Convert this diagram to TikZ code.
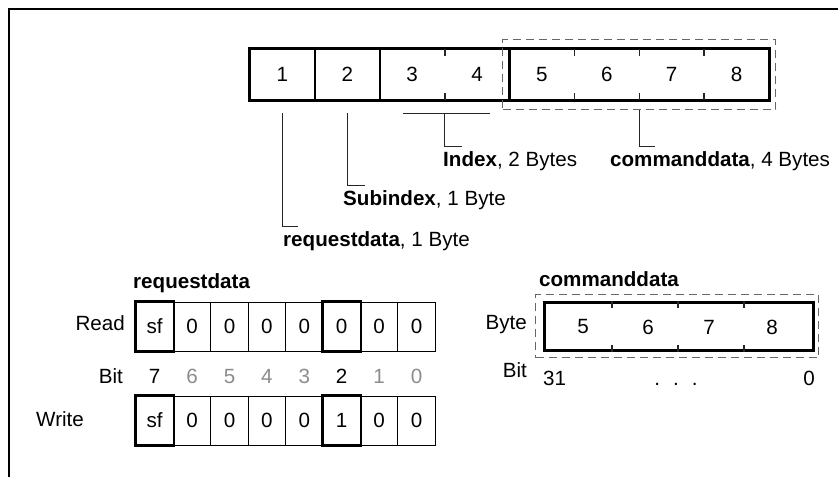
\documentclass[tikz,border=0pt]{standalone}
\usepackage{fontspec}
\setmainfont{Liberation Sans}
\begin{document}
\begin{tikzpicture}[x=1pt,y=-1pt,
  font=\fontsize{20.6}{24}\selectfont,
  thickbox/.style={line width=2.8pt},
  midline/.style={line width=2.2pt},
  tickl/.style={line width=1.8pt, draw=black!85},
  conn/.style={line width=1pt, draw=black!85},
  dashbox/.style={draw=black!60, line width=1.3pt, dash pattern=on 8pt off 5pt, inner sep=0pt, anchor=north west},
  lbl/.style={inner sep=0pt, anchor=base west},
  rlbl/.style={inner sep=0pt, anchor=base east},
  bytecell/.style={inner sep=0pt, minimum width=64.875pt, minimum height=51pt},
  bitcell/.style={draw, line width=1pt, inner sep=0pt, minimum width=37.4pt, minimum height=49pt},
  gbit/.style={inner sep=0pt, anchor=base, text=black!45},
  bbit/.style={inner sep=0pt, anchor=base},
  ctxt/.style={inner sep=0pt},
]
\useasboundingbox (0,0) rectangle (838,477);
% frame
\coordinate (fbl) at (9,477);
\coordinate (ftl) at (9,9);
\coordinate (ftr) at (838,9);
\draw[line width=1.2pt] (fbl) -- (ftl) -- (ftr);

% ---------- top byte row ----------
\foreach \i in {1,...,8}
  \node[bytecell] (t\i) at ({250+(\i-0.5)*64.875},74.5) {\i};
\draw[thickbox] (t1.north west) rectangle (t8.south east);
\draw[midline] (t1.north east) -- (t1.south east);
\draw[midline] (t2.north east) -- (t2.south east);
\draw[thickbox] (t4.north east) -- (t4.south east);
\foreach \i in {3,5,6,7}{
  \draw[tickl] (t\i.north east) -- ++(0,7);
  \draw[tickl] (t\i.south east) -- ++(0,-7);
}
\node[dashbox, draw, minimum width=273pt, minimum height=70pt] (cmdgrp) at (502,39) {};

% ---------- labels and connectors ----------
\node[lbl] (lreq) at (283,246) {\textbf{requestdata}, 1 Byte};
\node[lbl] (lsub) at (343,205) {\textbf{Subindex}, 1 Byte};
\node[lbl] (lidx) at (443,166) {\textbf{Index}, 2 Bytes};
\node[lbl] (lcmd) at (610,166) {\textbf{commanddata}, 4 Bytes};

\draw[conn] ([yshift=-13pt]t1.south) -- (t1.south |- 0,226) -- ++(16,0);
\draw[conn] ([yshift=-13pt]t2.south) -- (t2.south |- 0,185) -- ++(18,0);
\coordinate (idxl) at (403,113);
\coordinate (idxr) at (490,113);
\draw[conn] (idxl) -- (idxr);
\draw[conn] (t3.south east |- idxl) -- (t3.south east |- 0,146) -- ++(17,0);
\draw[conn] (cmdgrp.south) -- (cmdgrp.south |- 0,146) -- ++(16,0);

% ---------- requestdata detail ----------
\node[lbl] (treq) at (133,288) {\textbf{requestdata}};
\foreach [count=\k from 0] \v in {sf,0,0,0,0,0,0,0}
  \node[bitcell] (r\k) at ({136+(\k+0.5)*37.4},326.5) {\v};
\foreach [count=\k from 0] \v in {sf,0,0,0,0,1,0,0}
  \node[bitcell] (w\k) at ({136+(\k+0.5)*37.4},420.5) {\v};
\foreach \n in {r0,r5,w0,w5}
  \draw[thickbox] (\n.north west) rectangle (\n.south east);
\node[rlbl] (lread) at (125,330) {Read};
\node[rlbl] (lbit) at (123,383) {Bit};
\node[lbl] (lwrite) at (36,426) {Write};
\foreach [count=\k from 0] \b in {7,6,5,4,3,2,1,0}{
  \ifnum\k=0 \node[bbit] (bn\k) at ({136+(\k+0.5)*37.4},383) {\b};
  \else\ifnum\k=5 \node[bbit] (bn\k) at ({136+(\k+0.5)*37.4},383) {\b};
  \else \node[gbit] (bn\k) at ({136+(\k+0.5)*37.4},383) {\b};
  \fi\fi
}

% ---------- commanddata detail ----------
\node[lbl] (tcmd) at (539,286) {\textbf{commanddata}};
\node[dashbox, draw, minimum width=283pt, minimum height=63pt] (cmdgrp2) at (535,294) {};
\node[draw, thickbox, inner sep=0pt, anchor=north west, minimum width=269pt, minimum height=48pt] (cmdbox) at (543,301) {};
\foreach \x in {612,678,744}{
  \draw[tickl] (cmdbox.north -| \x,0) -- ++(0,7);
  \draw[tickl] (cmdbox.south -| \x,0) -- ++(0,-7);
}
\node[ctxt] (c5) at (583,327) {5};
\node[ctxt] (c6) at (648,327) {6};
\node[ctxt] (c7) at (709,327) {7};
\node[ctxt] (c8) at (772,327) {8};
\node[rlbl] (lbyte) at (527,329) {Byte};
\node[rlbl] (lbit2) at (527,377) {Bit};
\node[lbl] (b31) at (543,385) {31};
\node[bbit] (bdots) at (676,385) {.\hspace{13pt}.\hspace{13pt}.};
\node[rlbl] (b0) at (815,385) {0};
\end{tikzpicture}
\end{document}
